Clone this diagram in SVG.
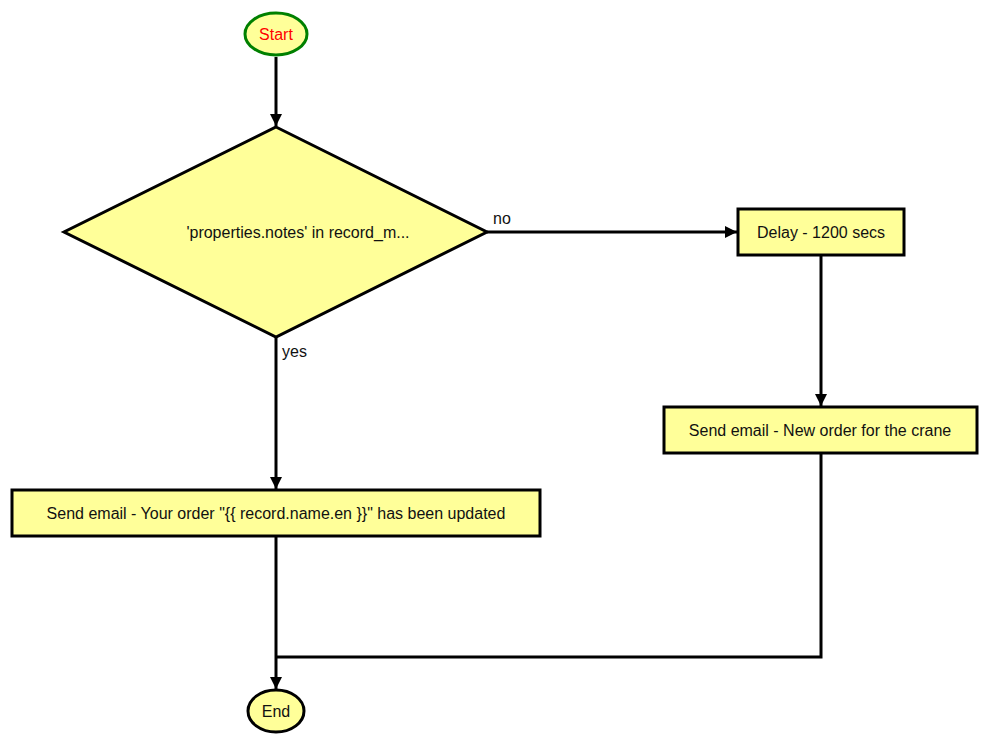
<svg xmlns="http://www.w3.org/2000/svg" width="983" height="738" viewBox="0 0 983 738">
<style>
.n{fill:#ffff99;stroke:#000;stroke-width:3}
.t{font-family:"Liberation Sans",Arial,sans-serif;font-size:16px;fill:#111;text-anchor:middle}
.l{font-family:"Liberation Sans",Arial,sans-serif;font-size:16px;fill:#111}
.c{fill:none;stroke:#000;stroke-width:3}
</style>
<defs><marker id="a" viewBox="0 0 10 10" refX="10" refY="5" markerWidth="4" markerHeight="4" orient="auto" markerUnits="strokeWidth"><path d="M0,0L10,5L0,10z" fill="#000"/></marker></defs>
<rect width="983" height="738" fill="#fff"/>
<g id="connectors">
<path class="c" d="M276,57V126" marker-end="url(#a)"/>
<path class="c" d="M487,232H737" marker-end="url(#a)"/>
<path class="c" d="M821,255V406" marker-end="url(#a)"/>
<path class="c" d="M276,337V489" marker-end="url(#a)"/>
<path class="c" d="M276,536V689" marker-end="url(#a)"/>
<path class="c" d="M821,453V657H276"/>
<text class="l" x="493" y="224">no</text>
<text class="l" x="282" y="357">yes</text>
</g>
<g id="start"><ellipse cx="276" cy="34" rx="31" ry="21" fill="#ffff99" stroke="#008000" stroke-width="3"/><text class="t" x="276" y="40" style="fill:#ff0000">Start</text></g>
<g id="decision"><polygon class="n" points="276,127 487,232 276,337 64,232"/><text class="t" x="298" y="238">'properties.notes' in record_m...</text></g>
<g id="delay"><rect class="n" x="738" y="209" width="166" height="46"/><text class="t" x="821" y="238">Delay - 1200 secs</text></g>
<g id="email2"><rect class="n" x="664" y="407" width="313" height="46"/><text class="t" x="820" y="436">Send email - New order for the crane</text></g>
<g id="email1"><rect class="n" x="12" y="490" width="528" height="46"/><text class="t" x="276" y="519">Send email - Your order "{{ record.name.en }}" has been updated</text></g>
<g id="end"><ellipse class="n" cx="276" cy="711" rx="28" ry="21"/><text class="t" x="276" y="717">End</text></g>
</svg>
